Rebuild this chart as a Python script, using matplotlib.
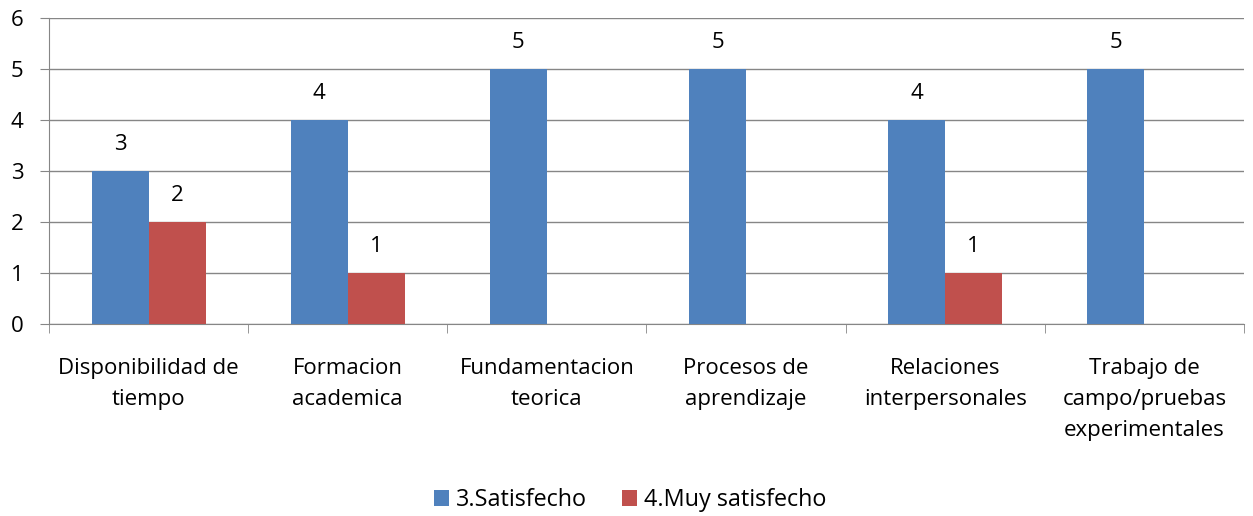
import matplotlib.pyplot as plt
import numpy as np

plt.rcParams['font.family'] = ['Open Sans', 'DejaVu Sans']

categorias = ['Disponibilidad de\ntiempo', 'Formacion\nacademica', 'Fundamentacion\nteorica',
              'Procesos de\naprendizaje', 'Relaciones\ninterpersonales',
              'Trabajo de\ncampo/pruebas\nexperimentales']
satisfecho = [3, 4, 5, 5, 4, 5]
muy_satisfecho = [2, 1, 0, 0, 1, 0]

fig = plt.figure(figsize=(12.53, 5.16), dpi=100)
ax = fig.add_axes([0.0391, 0.373, 0.9537, 0.592])

x = np.arange(len(categorias))
w = 0.286
b1 = ax.bar(x - w / 2, satisfecho, w, color='#4F81BD', label='3.Satisfecho', zorder=3)
b2 = ax.bar(x + w / 2, muy_satisfecho, w, color='#C0504D', label='4.Muy satisfecho', zorder=3)

fs = 16
# etiquetas de valor (no se muestran los ceros)
for rect, v in zip(list(b1) + list(b2), satisfecho + muy_satisfecho):
    if v > 0:
        ax.text(rect.get_x() + rect.get_width() / 2, v + 0.52, str(v),
                ha='center', va='center', fontsize=fs)

ax.set_xlim(-0.5, len(categorias) - 0.5)
ax.set_ylim(0, 6)
ax.set_yticks(range(7))
ax.yaxis.grid(True, color='#868686', linewidth=1, zorder=0)
ax.set_xticks(x)
ax.set_xticklabels(categorias, fontsize=fs, linespacing=1.65)
ax.set_xticks(np.arange(-0.5, len(categorias)), minor=True)
ax.tick_params(axis='x', which='major', length=0, pad=24.5)
ax.tick_params(axis='x', which='minor', length=6.5, color='#868686')
ax.tick_params(axis='y', labelsize=fs, length=6.5, color='#868686', pad=12)
for s in ['top', 'right']:
    ax.spines[s].set_visible(False)
for s in ['left', 'bottom']:
    ax.spines[s].set_color('#868686')

fig.legend(loc='center', bbox_to_anchor=(0.503, 0.031), ncol=2, frameon=False,
           fontsize=16.8, handlelength=0.64, handleheight=0.64, columnspacing=1.5,
           handletextpad=0.3)

plt.savefig('out.png')
